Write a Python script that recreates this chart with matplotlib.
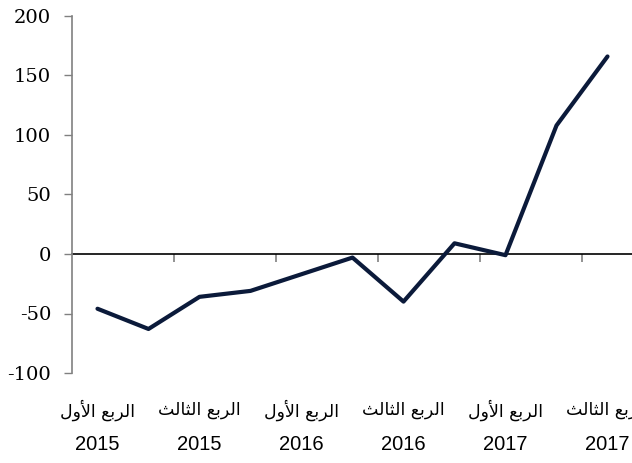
import matplotlib
matplotlib.use("Agg")
import matplotlib.pyplot as plt

# quarterly values, Q1 2015 .. Q3 2017
quarters = ["Q1 2015", "Q2 2015", "Q3 2015", "Q4 2015",
            "Q1 2016", "Q2 2016", "Q3 2016", "Q4 2016",
            "Q1 2017", "Q2 2017", "Q3 2017"]
values = [-46, -63, -36, -31, -17, -3, -40, 9, -1, 108, 166]

# Arabic quarter names in presentation forms, visual order (matplotlib has no shaping)
q1_ar = "\ufedd\ufeed\ufef7\ufe8d \ufeca\ufe91\ufeae\ufedf\ufe8d"   # الربع الأول
q3_ar = "\ufe9a\ufedf\ufe8e\ufe9c\ufedf\ufe8d \ufeca\ufe91\ufeae\ufedf\ufe8d"   # الربع الثالث
label_names = [q1_ar, q3_ar, q1_ar, q3_ar, q1_ar, q3_ar]
label_years = ["2015", "2015", "2016", "2016", "2017", "2017"]

y_ticks = [-100, -50, 0, 50, 100, 150, 200]

line_color = "#0b1a3a"

fig = plt.figure(figsize=(6.32, 4.63), dpi=100)
ax = fig.add_axes([72 / 632, 1 - 373 / 463, 561 / 632, (373 - 16) / 463])

x = list(range(len(values)))
ax.plot(x, values, color=line_color, linewidth=3.0, solid_capstyle="round",
        solid_joinstyle="round", zorder=3)

ax.set_xlim(-0.5, len(values) - 0.5)
ax.set_ylim(-100, 200)
ax.set_yticks(y_ticks)
ax.set_yticklabels([str(v) for v in y_ticks], fontfamily="DejaVu Serif", fontsize=14)
ax.tick_params(axis="y", direction="out", length=6, width=1, color="#808080", pad=9)

for s in ["top", "right", "bottom"]:
    ax.spines[s].set_visible(False)
ax.spines["left"].set_color("#808080")
ax.spines["left"].set_linewidth(1.2)

# category labels at the bottom of the plot
ax.set_xticks(x[::2])
ax.set_xticklabels([""] * len(label_names))
ax.tick_params(axis="x", length=0)
for xi, name, yr in zip(x[::2], label_names, label_years):
    ax.annotate(name, xy=(xi, 0), xycoords=("data", "axes fraction"),
                xytext=(0, -37), textcoords="offset pixels",
                ha="center", va="center", fontsize=12.5, family="DejaVu Sans",
                annotation_clip=False)
    ax.annotate(yr, xy=(xi, 0), xycoords=("data", "axes fraction"),
                xytext=(0, -72), textcoords="offset pixels",
                ha="center", va="center", fontsize=14.5, family="Liberation Sans",
                annotation_clip=False)

# zero line with tick marks between category pairs
zero_ax = ax.secondary_xaxis(1 / 3)
zero_ax.set_xticks([i + 0.5 for i in x[1:-1:2]])
zero_ax.set_xticklabels([])
zero_ax.tick_params(direction="out", length=6, width=1.2, color="#808080")
zero_ax.spines["bottom"].set_color("black")
zero_ax.spines["bottom"].set_linewidth(1.2)

fig.savefig("out.png", dpi=100)
